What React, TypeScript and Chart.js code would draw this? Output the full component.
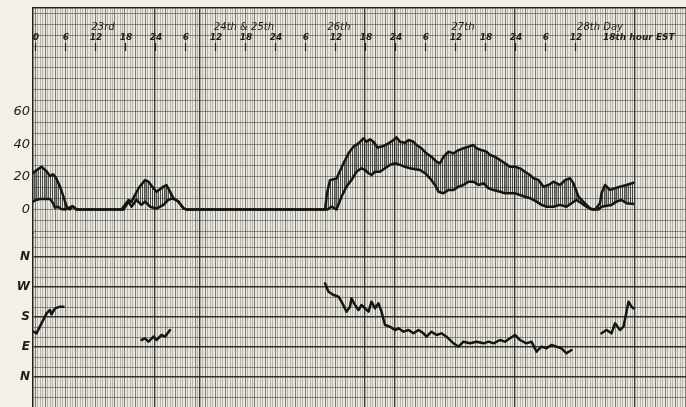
import React, { useEffect, useRef } from 'react';
import { Chart, registerables } from 'chart.js';

Chart.register(...registerables);

// ---- header (time axis) ----
const hourTicks = [0, 6, 12, 18, 24, 30, 36, 42, 48, 54, 60, 66, 72, 78, 84, 90, 96, 102, 108, 114];
const hourLabels = ['0', '6', '12', '18', '24', '6', '12', '18', '24', '6', '12', '18', '24', '6', '12', '18', '24', '6', '12', '18th hour EST'];
const dayLabelHours = [13.6, 41.8, 60.8, 85.6, 113];
const dayLabels = ['23rd', '24th & 25th', '26th', '27th', '28th Day'];

// ---- vertical axis labels ----
const speedTickValues = [0, 20, 40, 60];
const speedTickLabels = ['0', '20', '40', '60'];
const directionTickValues = [0, 90, 180, 270, 360];
const directionTickLabels = ['N', 'E', 'S', 'W', 'N'];

// ---- wind speed, upper trace (hour, speed) ----
const upperHours = [-0.4, 0.3, 1.3, 2.3, 3, 3.6, 4.2, 5, 5.8, 6.4, 7, 7.5, 8.3, 17.3, 18.7, 19.3, 20.7, 22, 22.7, 23.7, 24.3, 25.7, 26.3, 27, 27.7, 28.7, 29.7, 30.2, 58, 58.4, 59, 60.3, 61.7, 62.7, 63.7, 64.7, 65.7, 66.3, 67, 67.7, 68.5, 69.7, 70.7, 71.7, 72.3, 73, 74, 74.7, 75.7, 76.3, 77.3, 78.3, 79.3, 80.3, 81, 81.7, 82.7, 83.7, 84.7, 85.7, 86.7, 87.7, 88.3, 89.3, 90.3, 91, 92, 93, 94, 95, 96, 97, 98, 99, 99.7, 100.7, 101.7, 102.7, 103.7, 105, 106, 107, 107.7, 108.7, 110, 111, 112, 113, 113.3, 114, 115, 116, 117, 118.3, 119.7];
const upperSpeed = [22.4, 24, 26.2, 23.5, 20.5, 21.5, 19.5, 14, 7, 1, 0, 2, 0, 0, 5.8, 4.8, 13, 18, 17, 13, 10.9, 14, 15, 10.9, 6.9, 4.8, 0.7, 0, 0, 10, 18, 19, 28.3, 34.4, 38.5, 40.5, 43.6, 41.5, 43, 41.5, 38, 38.9, 40.5, 42.6, 44.2, 41.5, 40.9, 42.6, 41.5, 39.5, 37.5, 34.4, 32.3, 29.3, 28.3, 32.3, 35.4, 34.4, 36.4, 37.5, 38.5, 39.5, 37.5, 36.4, 35.4, 33.4, 32.3, 30.3, 28.3, 26.2, 26.2, 25.2, 23.1, 21.1, 19.1, 18.1, 14, 15, 17, 15, 18, 19.1, 16, 7.8, 3.8, 0.7, 0, 3.8, 9.9, 15, 12, 13, 14, 15, 16.4];

// ---- wind speed, lower trace (hour, speed) ----
const lowerHours = [-0.4, 0.2, 1, 3, 3.6, 4, 4.6, 5.2, 6, 7.5, 8.3, 17.7, 18.7, 19.3, 20.3, 21.3, 22, 23, 24.3, 25.7, 26.7, 27.3, 27.7, 28.7, 29.7, 30.2, 58.5, 59.3, 60.3, 61.3, 62.3, 63.3, 64.3, 65.3, 66, 66.7, 67.3, 68, 69, 70, 71, 72, 73, 74, 75, 76, 77, 78, 79, 80, 80.7, 81.7, 82.7, 83.7, 84.7, 85.7, 86.7, 87.7, 88.7, 89.7, 90.7, 91.7, 93, 94, 95, 96, 97, 98, 99, 100.3, 101.3, 102.3, 103.7, 105, 106.3, 107.3, 108.3, 109.3, 110.3, 111.3, 112.7, 113.3, 115.3, 116.3, 117.3, 118.3, 119.7];
const lowerSpeed = [4.8, 5.8, 6.4, 6.4, 4, 1, 1.7, 0.3, 0, 2, 0, 0, 4.8, 1.7, 5.8, 2.8, 4.8, 1.7, 0.5, 2.8, 6, 6.5, 6.5, 4.8, 0.7, 0, 0, 1.7, 0, 7.8, 14, 18, 23.1, 25.2, 24.2, 22.2, 21.1, 23.1, 23.1, 25.2, 27.3, 28.3, 27.3, 26.2, 25.2, 24.6, 24.2, 22.2, 19.1, 15, 10.9, 9.9, 11.9, 11.9, 14, 15, 17, 17, 15, 16, 13, 11.9, 10.9, 9.9, 9.9, 9.9, 8.9, 7.8, 6.9, 4.8, 2.8, 1.7, 1.7, 2.8, 1.7, 3.8, 5.8, 3.8, 1.7, 0, 0, 1.7, 2.8, 4.8, 5.8, 3.8, 3.4];

// ---- wind direction (hour, degrees: N=0, E=90, S=180, W=270, N=360); null = no record ----
const dirHours = [-0.3, 0.3, 1.3, 2.3, 3, 3.3, 4, 5, 5.7, 6, 21.3, 22, 22.7, 23.7, 24.3, 25.3, 26, 27, 28, 58, 58.7, 59.7, 60.7, 61.3, 62.3, 63, 63.3, 64, 64.7, 65.3, 66, 66.7, 67.3, 68, 68.7, 69.3, 70, 71, 72, 72.7, 73.7, 74.7, 75.7, 76.7, 77.7, 78.3, 79.3, 80.3, 81.3, 82.3, 83.7, 84.7, 85.7, 87, 88.3, 89.7, 90.7, 91.7, 93, 94, 95, 96, 97, 98.3, 99.3, 100.3, 101.3, 102.3, 103.3, 104.3, 105.3, 106.3, 107.3, 110, 113.3, 114.3, 115.3, 116, 117, 117.7, 118.7, 119.3, 119.7];
const dirDegrees = [136, 131, 161, 191, 201, 188, 206, 211, 211, null, 111, 116, 106, 121, 111, 126, 121, 141, null, 281, 256, 246, 241, 226, 196, 211, 236, 216, 201, 216, 206, 196, 226, 206, 221, 196, 156, 151, 141, 146, 136, 141, 131, 141, 131, 121, 136, 126, 131, 121, 101, 91, 106, 101, 106, 101, 106, 101, 111, 106, 116, 126, 111, 101, 106, 76, 91, 86, 96, 91, 86, 71, 81, null, 131, 141, 131, 161, 141, 151, 226, 211, 206];

// paper ruling (styling only)
const heavyGridHours = [24, 33, 66, 72, 96, 120];

const near = (a: number, b: number) => Math.abs(a - b) < 0.01;

export default function App() {
  const ref = useRef<HTMLCanvasElement | null>(null);

  useEffect(() => {
    const canvas = ref.current;
    if (!canvas) return;
    document.body.style.margin = '0';

    const pc = document.createElement('canvas');
    pc.width = 2;
    pc.height = 4;
    const pctx = pc.getContext('2d')!;
    pctx.fillStyle = 'rgba(25,25,22,0.7)';
    pctx.fillRect(0, 0, 1, 4);
    const hatch = pctx.createPattern(pc, 'repeat')!;

    const xGrid: number[] = [];
    for (let v = -0.5; v <= 131; v += 0.5) xGrid.push(v);
    const speedGrid: number[] = [];
    for (let k = -2; k <= 18; k++) speedGrid.push((k * 20) / 3);
    const dirGrid: number[] = [];
    for (let v = -90; v <= 420; v += 30) dirGrid.push(v);

    const paper = {
      id: 'paper',
      beforeDraw(chart: any) {
        const { ctx, chartArea } = chart;
        ctx.save();
        ctx.fillStyle = '#f3f0e7';
        ctx.fillRect(0, 0, chart.width, chart.height);
        ctx.fillStyle = '#e9e7de';
        ctx.fillRect(chartArea.left, chartArea.top, chartArea.right - chartArea.left, chartArea.bottom - chartArea.top);
        ctx.restore();
      },
      afterDatasetsDraw(chart: any) {
        const { ctx } = chart;
        const xs = chart.scales.x;
        ctx.save();
        ctx.fillStyle = '#1c1c1a';
        ctx.strokeStyle = '#1c1c1a';
        ctx.lineWidth = 1.2;
        ctx.textBaseline = 'middle';
        ctx.font = 'italic bold 9px "DejaVu Sans"';
        hourTicks.forEach((h, i) => {
          const px = xs.getPixelForValue(h);
          const last = i === hourTicks.length - 1;
          ctx.textAlign = last ? 'left' : 'center';
          ctx.fillText(hourLabels[i], last ? px - 2 : px + 1, 38);
          if (!last) {
            ctx.beginPath();
            ctx.moveTo(Math.round(px) + 0.5, 43);
            ctx.lineTo(Math.round(px) + 0.5, 51);
            ctx.stroke();
          }
        });
        ctx.font = 'italic 10px "DejaVu Sans"';
        ctx.textAlign = 'center';
        dayLabelHours.forEach((h, i) => {
          ctx.fillText(dayLabels[i], xs.getPixelForValue(h), 27);
        });
        ctx.restore();
      },
    };

    const lineStyle = {
      borderColor: '#151513',
      borderWidth: 2.5,
      pointRadius: 0,
      tension: 0,
      borderJoinStyle: 'round' as const,
      borderCapStyle: 'round' as const,
    };

    const fitLeft = (s: any) => {
      s.width = 33;
      s.paddingTop = 0;
      s.paddingBottom = 0;
    };

    const chart = new Chart(canvas, {
      type: 'line',
      data: {
        datasets: [
          {
            label: 'Wind speed (upper)',
            data: upperHours.map((h, i) => ({ x: h, y: upperSpeed[i] })),
            yAxisID: 'ySpeed',
            fill: false,
            ...lineStyle,
          },
          {
            label: 'Wind speed (lower)',
            data: lowerHours.map((h, i) => ({ x: h, y: lowerSpeed[i] })),
            yAxisID: 'ySpeed',
            fill: '-1',
            backgroundColor: hatch,
            ...lineStyle,
          },
          {
            label: 'Wind direction',
            data: dirHours.map((h, i) => ({ x: h, y: dirDegrees[i] })),
            yAxisID: 'yDir',
            fill: false,
            spanGaps: false,
            ...lineStyle,
          },
        ],
      },
      options: {
        responsive: false,
        animation: false,
        devicePixelRatio: 1,
        layout: { padding: { top: 8, right: 0, bottom: 0, left: 0 } },
        plugins: { legend: { display: false }, tooltip: { enabled: false } },
        scales: {
          x: {
            type: 'linear',
            position: 'top',
            min: -0.4,
            max: 130.2,
            afterBuildTicks: (s: any) => {
              s.ticks = xGrid.map((v) => ({ value: v }));
            },
            afterFit: (s: any) => {
              s.height = 0;
              s.paddingLeft = 0;
              s.paddingRight = 0;
            },
            ticks: { display: false, autoSkip: false },
            grid: {
              drawTicks: false,
              color: (c: any) => {
                const v = c.tick ? c.tick.value : 0;
                if (heavyGridHours.some((h) => near(h, v))) return 'rgba(20,20,18,0.8)';
                if (near(v / 2, Math.round(v / 2))) return 'rgba(40,40,36,0.55)';
                return 'rgba(90,90,82,0.35)';
              },
              lineWidth: (c: any) => {
                const v = c.tick ? c.tick.value : 0;
                if (heavyGridHours.some((h) => near(h, v))) return 1.4;
                return 1;
              },
            },
            border: { display: true, color: '#222', width: 1.5 },
          },
          yDir: {
            type: 'linear',
            position: 'left',
            stack: 'panels',
            stackWeight: 174,
            min: -90,
            max: 432,
            afterBuildTicks: (s: any) => {
              s.ticks = dirGrid.map((v) => ({ value: v }));
            },
            afterFit: fitLeft,
            ticks: {
              autoSkip: false,
              padding: 3,
              color: '#1c1c1a',
              font: { family: 'DejaVu Sans', size: 12, style: 'italic', weight: 'bold' },
              callback: (v: any) => {
                const i = directionTickValues.findIndex((t) => near(t, Number(v)));
                return i >= 0 ? directionTickLabels[i] : '';
              },
            },
            grid: {
              drawTicks: false,
              color: (c: any) => {
                const v = c.tick ? c.tick.value : 1;
                return directionTickValues.some((t) => near(t, v)) ? 'rgba(20,20,18,0.85)' : 'rgba(50,50,45,0.5)';
              },
              lineWidth: (c: any) => {
                const v = c.tick ? c.tick.value : 1;
                return directionTickValues.some((t) => near(t, v)) ? 1.6 : 1;
              },
            },
            border: { display: true, color: '#222', width: 1.5 },
          },
          ySpeed: {
            type: 'linear',
            position: 'left',
            stack: 'panels',
            stackWeight: 225,
            min: -14.4,
            max: 123.4,
            afterBuildTicks: (s: any) => {
              s.ticks = speedGrid.map((v) => ({ value: v }));
            },
            afterFit: fitLeft,
            ticks: {
              autoSkip: false,
              padding: 3,
              color: '#1c1c1a',
              font: { family: 'DejaVu Sans', size: 13, style: 'italic' },
              callback: (v: any) => {
                const i = speedTickValues.findIndex((t) => near(t, Number(v)));
                return i >= 0 ? speedTickLabels[i] : '';
              },
            },
            grid: { drawTicks: false, color: 'rgba(50,50,45,0.5)', lineWidth: 1 },
            border: { display: true, color: '#222', width: 1.5 },
          },
        },
      },
      plugins: [paper],
    } as any);

    return () => chart.destroy();
  }, []);

  return (
    <div style={{ position: 'fixed', left: 0, top: 0, width: 686, height: 407 }}>
      <canvas ref={ref} width={686} height={407} style={{ display: 'block', width: 686, height: 407 }} />
    </div>
  );
}
